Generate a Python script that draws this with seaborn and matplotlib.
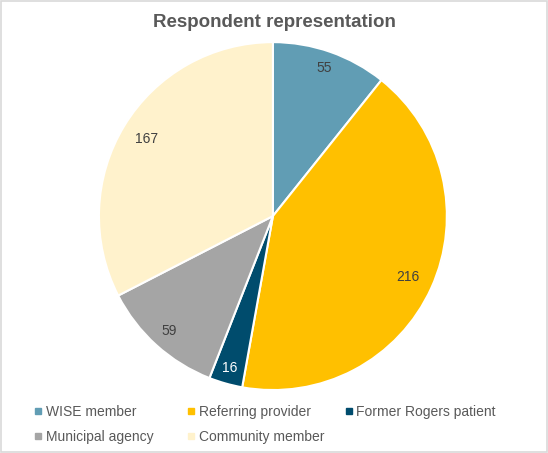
import numpy as np
import matplotlib
matplotlib.use("Agg")
import matplotlib.pyplot as plt
from matplotlib.patches import Rectangle
from matplotlib.lines import Line2D
import seaborn as sns

categories = ["WISE member", "Referring provider", "Former Rogers patient",
              "Municipal agency", "Community member"]
counts = [55, 216, 16, 59, 167]
colors = ["#619DB4", "#FFC000", "#004C6D", "#A5A5A5", "#FFF2CC"]
label_colors = ["#404040", "#404040", "#FFFFFF", "#404040", "#404040"]
label_dist = [0.90, 0.85, 0.91, 0.89, 0.85]

sns.set_theme(style="white")
plt.rcParams["font.family"] = ["Liberation Sans", "DejaVu Sans"]

fig = plt.figure(figsize=(5.48, 4.53), dpi=100)
fig.patch.set_facecolor("white")

# pie area
ax = fig.add_axes([0.498 - 0.3175, 0.523 - 0.384, 0.635, 0.768])
wedges, _ = ax.pie(counts, colors=colors, startangle=90, counterclock=False,
                   wedgeprops=dict(edgecolor="white", linewidth=1.5))
ax.set_aspect("equal")
ax.set_xlim(-1, 1)
ax.set_ylim(-1, 1)
ax.axis("off")

for w, v, c, d in zip(wedges, counts, label_colors, label_dist):
    ang = np.deg2rad((w.theta1 + w.theta2) / 2)
    ax.text(d * np.cos(ang), d * np.sin(ang), str(v), ha="center", va="center",
            fontsize=10, color=c)

fig.text(0.5, 0.951, "Respondent representation", ha="center", va="center",
         fontsize=13.5, fontweight="bold", color="#595959")

handles = [Line2D([], [], marker="s", linestyle="none", markersize=4.5,
                  markerfacecolor=col, markeredgecolor=col) for col in colors]

# legend in three columns, filled row by row
ncol = 3
col_x = [0.060, 0.339, 0.626]
for col in range(ncol):
    idx = list(range(col, len(categories), ncol))
    leg = fig.legend([handles[i] for i in idx], [categories[i] for i in idx],
                     ncol=1, loc="upper left", bbox_to_anchor=(col_x[col], 0.107),
                     frameon=False, fontsize=10, borderaxespad=0, borderpad=0,
                     handletextpad=0.15, labelspacing=0.8, handlelength=0.8)
    for t in leg.get_texts():
        t.set_color("#595959")

fig.add_artist(Rectangle((0.002, 0.002), 0.996, 0.995, transform=fig.transFigure,
                         fill=False, edgecolor="#D9D9D9", linewidth=1.2))

fig.savefig("out.png", dpi=100)
